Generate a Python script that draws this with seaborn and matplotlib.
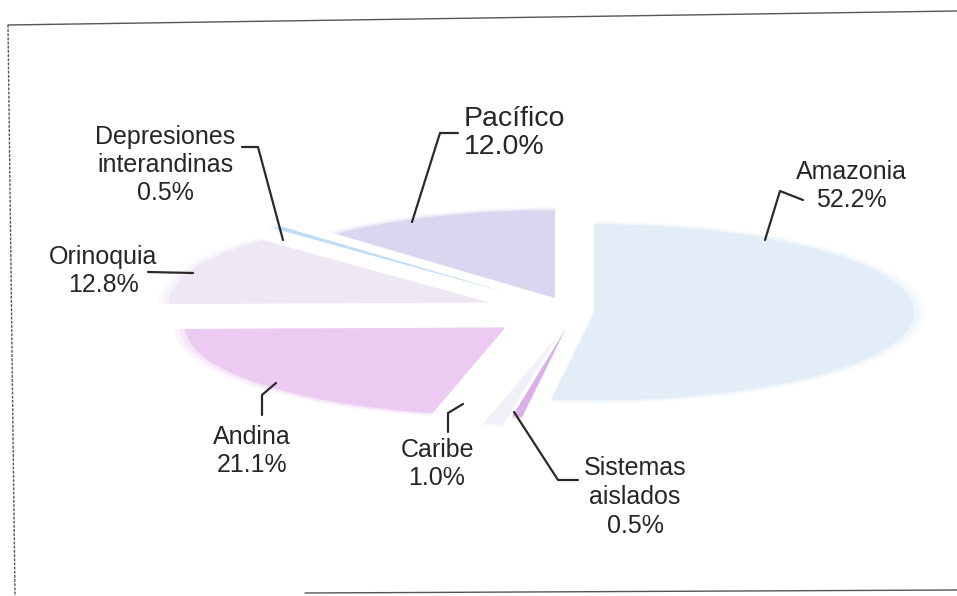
import matplotlib
matplotlib.use("Agg")
import matplotlib.pyplot as plt
from matplotlib.lines import Line2D
import seaborn as sns

# Shares of each natural region (%)
regiones = ["Amazonia", "Sistemas\naislados", "Caribe", "Andina",
            "Orinoquia", "Depresiones\ninterandinas", "Pacífico"]
porcentajes = [52.2, 0.5, 1.0, 21.1, 12.8, 0.5, 12.0]

colores = ["#e2edf8", "#dbb0e8", "#f1eff8", "#eccbf3",
           "#ede8f4", "#bfdcf4", "#dbd6ef"]
separacion = [0.06, 0.20, 0.30, 0.28, 0.29, 0.33, 0.17]

sns.set_theme(style="white")
plt.rcParams["font.family"] = ["Liberation Sans", "DejaVu Sans"]

W, H = 957, 596
fig = plt.figure(figsize=(W / 100, H / 100), dpi=100)
ax = fig.add_axes([0, 0, 1, 1])

# soft halo around the wedges, then the wedges themselves
for r, a in [(1.035, 0.18), (1.018, 0.35)]:
    ax.pie(porcentajes, explode=separacion, colors=colores, startangle=90,
           counterclock=False, radius=r,
           wedgeprops=dict(linewidth=0, alpha=a))
ax.pie(porcentajes, explode=separacion, colors=colores, startangle=90,
       counterclock=False, radius=1.0, wedgeprops=dict(linewidth=0))

# flatten the pie into a wide ellipse
cx, cy, rx, ry = 575, 312, 320, 88
ax.set_aspect("auto")
ax.set_xlim(-cx / rx, (W - cx) / rx)
ax.set_ylim((cy - H) / ry, cy / ry)
ax.axis("off")


def fp(x, y):
    return x / W, 1 - y / H


# label anchor (pixel), alignment, size, line spacing, leader polyline (pixel)
etiquetas = [
    ((851, 186), "center", 18, 1.2, [(765, 240), (780, 191), (803, 200)]),
    ((635, 497), "center", 18, 1.25, [(514, 412), (558, 480), (578, 480)]),
    ((437, 464), "center", 18, 1.2, [(463, 404), (448, 413), (448, 432)]),
    ((252, 451), "center", 18, 1.2, [(276, 383), (262, 395), (262, 415)]),
    ((103, 271), "center", 18, 1.2, [(193, 273), (148, 272)]),
    ((165, 165), "center", 18, 1.2, [(283, 240), (258, 147), (242, 147)]),
    ((464, 133), "left", 20.5, 1.1, [(412, 222), (440, 133), (458, 133)]),
]

for nombre, pct, (pos, ha, fs, ls, linea) in zip(regiones, porcentajes,
                                                 etiquetas):
    xs, ys = zip(*[fp(*p) for p in linea])
    fig.add_artist(Line2D(xs, ys, transform=fig.transFigure,
                          color="#2a2a2a", lw=1.6))
    fig.text(*fp(*pos), f"{nombre}\n{pct:.1f}%", ha=ha, va="center",
             multialignment="center" if ha == "center" else "left",
             fontsize=fs, color="#262626", linespacing=ls)

# chart border
borde = dict(transform=fig.transFigure, color="#555555", lw=1.0)
fig.add_artist(Line2D(*zip(fp(8, 25), fp(957, 11)), **borde))
fig.add_artist(Line2D(*zip(fp(8, 25), fp(15, 596)), ls=(0, (2, 1)), **borde))
fig.add_artist(Line2D(*zip(fp(305, 593), fp(957, 590)), **borde))

fig.savefig("out.png", dpi=100, facecolor="white")
